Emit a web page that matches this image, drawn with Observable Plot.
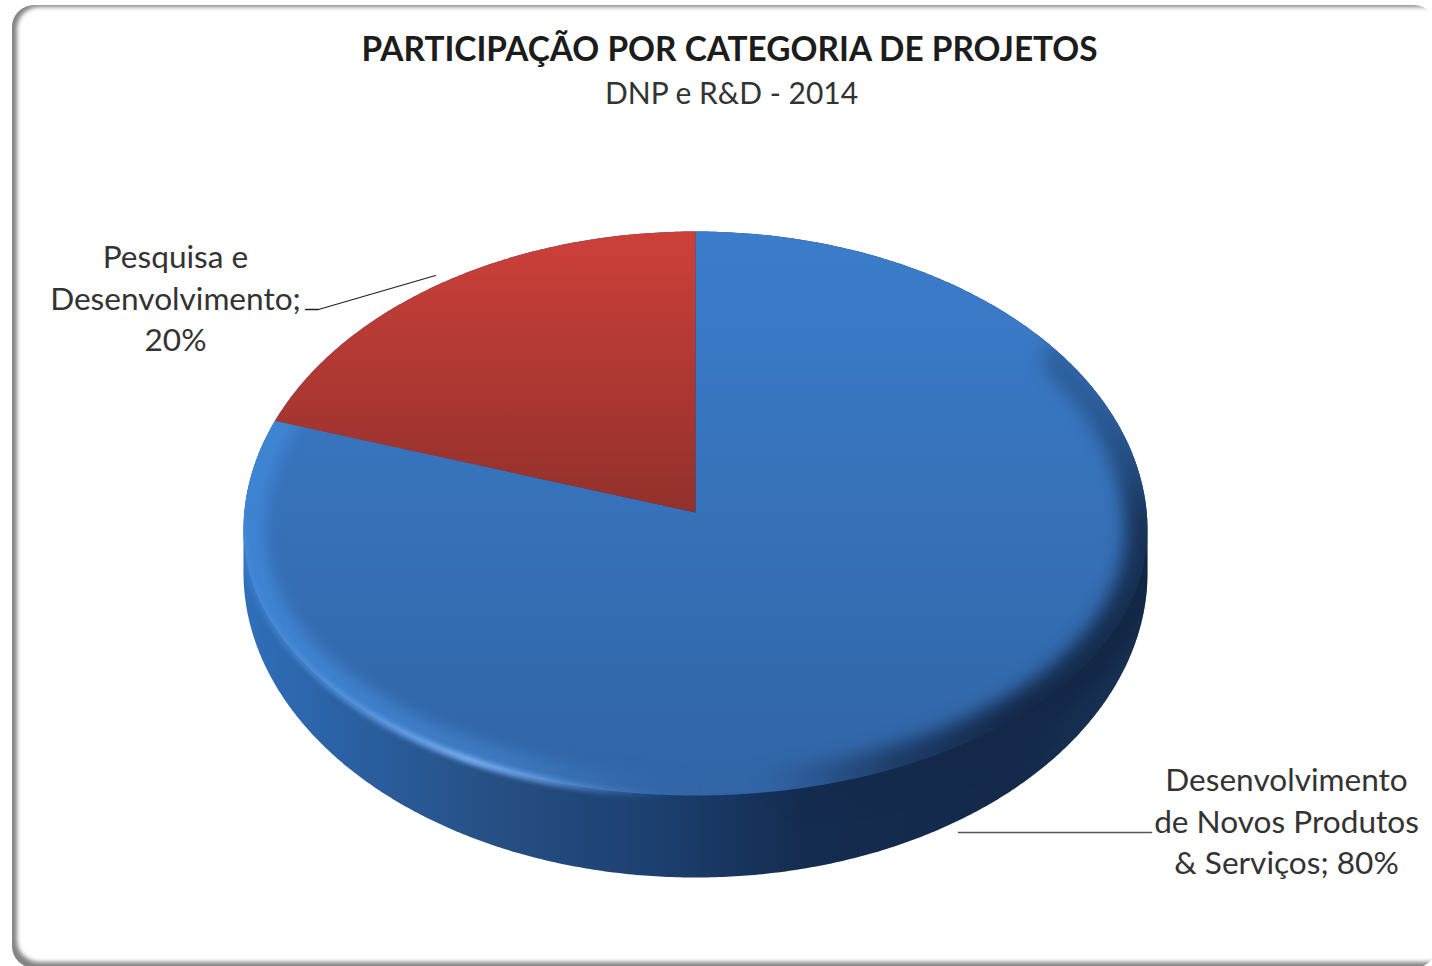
<!DOCTYPE html>
<html lang="pt">
<head>
<meta charset="utf-8">
<script src="https://cdn.jsdelivr.net/npm/d3@7"></script>
<script src="https://cdn.jsdelivr.net/npm/@observablehq/plot@0.6"></script>
<style>html,body{margin:0;padding:0;background:#fff;overflow:hidden}svg{display:block}</style>
</head>
<body>
<script>
// Data
const categories = ["Desenvolvimento de Novos Produtos & Serviços", "Pesquisa e Desenvolvimento"];
const shares = [80, 20];
const titleText = "PARTICIPAÇÃO POR CATEGORIA DE PROJETOS";
const subtitleText = "DNP e R&D - 2014";
const labelLines = [
  ["Desenvolvimento", "de Novos Produtos", `& Serviços; ${shares[0]}%`],
  ["Pesquisa e", "Desenvolvimento;", `${shares[1]}%`]
];

// Pie projection (a tilted disc: the outline is slightly fuller at the back)
const W = 1432, H = 966;
const apex = {x: 695, y: 512};
const cx = 695, cy = 530, rx = 452, ryBack = 299, ryFront = 265;
const botCy = 572, botRy = 305, tiltRy = 300;

const rad = d => d * Math.PI / 180;
const topPt = a => ({x: cx + rx * Math.sin(rad(a)), y: cy - (Math.cos(rad(a)) > 0 ? ryBack : ryFront) * Math.cos(rad(a))});
const botPt = a => ({x: cx + rx * Math.sin(rad(a)), y: botCy - botRy * Math.cos(rad(a))});
const steps = (a, b) => d3.range(a, b, 0.5).concat([b]);

// Where the boundary between slices meets the rim
const boundary = 360 * shares[0] / d3.sum(shares);
const dir = [Math.sin(rad(boundary)) * rx, -Math.cos(rad(boundary)) * tiltRy];
const cornerAngle = d3.least(steps(180, 360), a => {
  const p = topPt(a), dx = p.x - apex.x, dy = p.y - apex.y;
  return Math.abs(Math.atan2(dy, dx) - Math.atan2(dir[1], dir[0]));
});

const bluePoly = [apex, ...steps(0, cornerAngle).map(topPt), apex];
const redPoly = [apex, ...steps(cornerAngle, 360).map(topPt), apex];
const silhouette = [...steps(-90, 90).map(topPt), ...steps(90, 270).map(botPt)];
const rimLightPoly = steps(165, cornerAngle + 5).map(topPt);
const rimDarkPoly = steps(55, 180).map(topPt);
const glintPoly = steps(182, 272).map(topPt);

const addStop = (g, o, c, op = 1) => g.append("stop").attr("offset", o).attr("stop-color", c).attr("stop-opacity", op);

function defsMark(index, scales) {
  const defs = d3.create("svg:defs");
  const v = id => defs.append("linearGradient").attr("id", id).attr("x1", 0).attr("x2", 0).attr("y1", 0).attr("y2", 1);
  const h = id => defs.append("linearGradient").attr("id", id).attr("gradientUnits", "userSpaceOnUse")
    .attr("x1", 243).attr("x2", 1147).attr("y1", 0).attr("y2", 0);
  const b = v("blueTop"); addStop(b, 0, "#3b7dcb"); addStop(b, 1, "#3165a6");
  const r = v("redTop"); addStop(r, 0, "#cd403a"); addStop(r, 1, "#92302b");
  const s = h("side");
  addStop(s, 0, "#2f6fba"); addStop(s, 0.1, "#2b62a6"); addStop(s, 0.28, "#264f84"); addStop(s, 0.45, "#1c4070");
  addStop(s, 0.62, "#142c50"); addStop(s, 0.85, "#14294a"); addStop(s, 1, "#193455");
  const light = h("rimLight");
  addStop(light, 0, "#3f86d6", 0.9); addStop(light, 0.3, "#4a8cd8", 0.45); addStop(light, 0.5, "#3a75bb", 0);
  const dark = defs.append("linearGradient").attr("id", "rimDark").attr("gradientUnits", "userSpaceOnUse")
    .attr("x1", 1147).attr("x2", 780).attr("y1", 400).attr("y2", 800);
  addStop(dark, 0, "#10233f", 0); addStop(dark, 0.17, "#10233f", 0.8); addStop(dark, 0.6, "#14294a", 1);
  addStop(dark, 0.8, "#14294a", 0.7); addStop(dark, 1, "#14294a", 0);
  const gl = h("glint");
  addStop(gl, 0, "#4f93e0", 0.3); addStop(gl, 0.1, "#5d9ce6", 0.65); addStop(gl, 0.25, "#7ab1f2", 1);
  addStop(gl, 0.33, "#6ba3e6", 0.8); addStop(gl, 0.47, "#4a80c0", 0);
  const path = d3.line().x(d => scales.x(d.x)).y(d => scales.y(d.y));
  defs.append("clipPath").attr("id", "blueClip").append("path").attr("d", path(bluePoly));
  defs.append("clipPath").attr("id", "pieClip").append("path").attr("d", path(silhouette));
  return defs.node();
}

const poly = (pts, fill) => Plot.line(pts, {x: "x", y: "y", fill, stroke: "none", curve: "linear"});
const font = "Lato, 'Open Sans', sans-serif";

const chart = Plot.plot({
  width: W, height: H, margin: 0,
  x: {domain: [0, W], range: [0, W], axis: null},
  y: {domain: [0, H], range: [0, H], axis: null},
  style: {background: "transparent", fontFamily: font},
  marks: [
    defsMark,
    // card
    Plot.rect([{}], {x1: () => 12, x2: () => 1436, y1: () => 5, y2: () => 968, fill: "#848484", rx: 22}),
    Plot.rect([{}], {x1: () => 17, x2: () => 1450, y1: () => 7, y2: () => 962, fill: "#ffffff", rx: 22}),
    // pie
    poly(silhouette, "url(#side)"),
    poly(bluePoly, "url(#blueTop)"),
    poly(redPoly, "url(#redTop)"),
    Plot.line(rimLightPoly, {x: "x", y: "y", stroke: "url(#rimLight)", strokeWidth: 44, curve: "linear"}),
    Plot.line(rimDarkPoly, {x: "x", y: "y", stroke: "url(#rimDark)", strokeWidth: 44, curve: "linear"}),
    Plot.line(glintPoly, {x: "x", y: "y", stroke: "url(#glint)", strokeWidth: 7, curve: "linear"}),
    // leaders
    Plot.line([{x: 305, y: 309}, {x: 318, y: 309}, {x: 435, y: 275}], {x: "x", y: "y", stroke: "#222", strokeWidth: 1.3, curve: "linear"}),
    Plot.line([{x: 958, y: 832}, {x: 1151, y: 832}], {x: "x", y: "y", stroke: "#555", strokeWidth: 1.5}),
    // text
    Plot.text([titleText], {x: () => 729, y: () => 50, text: d => d, fontSize: 33.4, fontWeight: 700, fill: "#1c1c1c", lineAnchor: "middle", textAnchor: "middle"}),
    Plot.text([subtitleText], {x: () => 731, y: () => 94, text: d => d, fontSize: 30, fill: "#333", lineAnchor: "middle", textAnchor: "middle"}),
    Plot.text([labelLines[1].join("\n")], {x: () => 175, y: () => 296, text: d => d, fontSize: 31.6, lineHeight: 1.31, fill: "#333", lineAnchor: "middle", textAnchor: "middle"}),
    Plot.text([labelLines[0].join("\n")], {x: () => 1286, y: () => 819, text: d => d, fontSize: 31.6, lineHeight: 1.31, fill: "#333", lineAnchor: "middle", textAnchor: "middle"})
  ]
});
const tune = (selector, filter, clip) => {
  const g = chart.querySelector(selector);
  if (!g) return;
  if (filter) g.style.filter = filter;
  if (clip) g.setAttribute("clip-path", `url(#${clip})`);
};
tune('g[fill="#ffffff"]', "blur(2px)");
tune('g[stroke="url(#rimLight)"]', "blur(7px)", "blueClip");
tune('g[stroke="url(#rimDark)"]', "blur(9px)", "pieClip");
tune('g[stroke="url(#glint)"]', "blur(2.5px)", "pieClip");
document.body.appendChild(chart);
</script>
</body>
</html>
